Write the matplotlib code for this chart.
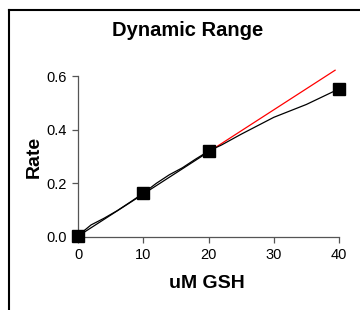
import numpy as np
import matplotlib
matplotlib.use("Agg")
import matplotlib.pyplot as plt
from matplotlib.lines import Line2D

# measured points
gsh = [0, 10, 20, 40]
rate = [0.005, 0.163, 0.322, 0.552]

# smooth curve through the points
curve_x = [0, 2, 4, 6, 8, 10, 12, 14, 16, 18, 20, 22, 25, 30, 35, 40]
curve_y = [0.005, 0.045, 0.07, 0.098, 0.13, 0.163, 0.2, 0.232, 0.258, 0.29,
           0.32, 0.343, 0.383, 0.446, 0.494, 0.552]

# linear range fit
fit_slope = 0.0157
fit_icpt = 0.003
fit_end = 39.4

plt.rcParams['font.family'] = ['Liberation Sans', 'DejaVu Sans']

fig = plt.figure(figsize=(3.6, 3.1), dpi=100)
ax = fig.add_axes([0.2167, 0.2355, 0.725, 0.5193])

fx = np.array([0, 20])
ax.plot(fx, fit_icpt + fit_slope * fx, c='black', lw=0.9, clip_on=False)
fx2 = np.array([20, fit_end])
ax.plot(fx2, fit_icpt + fit_slope * fx2, c='red', lw=0.9, clip_on=False)
ax.plot(curve_x, curve_y, c='black', lw=0.9, clip_on=False)
ax.plot(gsh, rate, ls='none', marker='s', ms=8.5, c='black', clip_on=False, zorder=5)

ax.set_xlim(0, 40)
ax.set_ylim(0, 0.6)
ax.set_xticks([0, 10, 20, 30, 40])
ax.set_yticks([0.0, 0.2, 0.4, 0.6])
ax.set_yticklabels(['0.0', '0.2', '0.4', '0.6'])
for s in ['top', 'right']:
    ax.spines[s].set_visible(False)
for s in ['left', 'bottom']:
    ax.spines[s].set_color('#555555')
    ax.spines[s].set_linewidth(0.9)
ax.tick_params(direction='out', length=4, width=0.9, color='#555555',
               labelsize=10.5, pad=4)

fig.text(0.52, 0.903, 'Dynamic Range', ha='center', va='center',
         fontsize=14.5, fontweight='bold')
fig.text(0.094, 0.494, 'Rate', ha='center', va='center', rotation=90,
         fontsize=14, fontweight='bold')
fig.text(0.575, 0.087, 'uM GSH', ha='center', va='center',
         fontsize=14, fontweight='bold')

# frame lines at top and left
fig.add_artist(Line2D([0.025, 1], [0.969, 0.969], transform=fig.transFigure, c='black', lw=1.5))
fig.add_artist(Line2D([0.025, 0.025], [0, 0.969], transform=fig.transFigure, c='black', lw=1.5))

fig.savefig('out.png', dpi=100)
